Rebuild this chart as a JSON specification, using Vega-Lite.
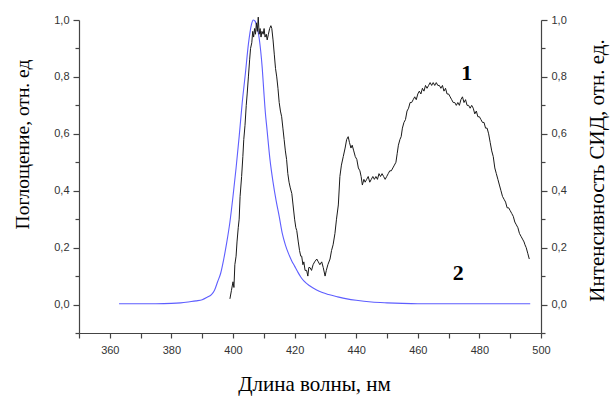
{
  "$schema": "https://vega.github.io/schema/vega-lite/v6.json",
  "width": 462,
  "height": 313,
  "autosize": {"type": "none"},
  "padding": {"left": 79, "top": 20, "right": 69, "bottom": 63},
  "background": "white",
  "config": {
    "view": {"stroke": null},
    "axis": {
      "grid": false,
      "domainColor": "#444",
      "domainWidth": 1.2,
      "tickColor": "#444",
      "tickWidth": 1.2,
      "labelColor": "#333",
      "labelFont": "Liberation Sans",
      "labelFontSize": 11,
      "titleFont": "Liberation Serif",
      "titleFontSize": 19,
      "titleFontWeight": "normal",
      "titleColor": "#000"
    }
  },
  "datasets": {
    "blue": [
      {"wl": 363, "v": 0.003}, {"wl": 370, "v": 0.003}, {"wl": 375, "v": 0.003}, {"wl": 380, "v": 0.004},
      {"wl": 383, "v": 0.006}, {"wl": 386, "v": 0.01}, {"wl": 388, "v": 0.013}, {"wl": 390, "v": 0.017},
      {"wl": 391.5, "v": 0.025}, {"wl": 393, "v": 0.035}, {"wl": 394, "v": 0.05}, {"wl": 395, "v": 0.08},
      {"wl": 396, "v": 0.11}, {"wl": 397, "v": 0.16}, {"wl": 398, "v": 0.22}, {"wl": 399, "v": 0.29},
      {"wl": 400, "v": 0.38}, {"wl": 401, "v": 0.48}, {"wl": 402, "v": 0.59}, {"wl": 403, "v": 0.71},
      {"wl": 404, "v": 0.81}, {"wl": 405, "v": 0.915}, {"wl": 405.5, "v": 0.955}, {"wl": 406, "v": 0.985},
      {"wl": 406.6, "v": 1.0}, {"wl": 407.2, "v": 0.995}, {"wl": 407.8, "v": 0.975}, {"wl": 408.3, "v": 0.95},
      {"wl": 409, "v": 0.89}, {"wl": 409.5, "v": 0.83}, {"wl": 410, "v": 0.75}, {"wl": 410.5, "v": 0.675},
      {"wl": 411, "v": 0.62}, {"wl": 412, "v": 0.51}, {"wl": 413, "v": 0.43}, {"wl": 414, "v": 0.365},
      {"wl": 415, "v": 0.31}, {"wl": 416, "v": 0.25}, {"wl": 417, "v": 0.21}, {"wl": 418, "v": 0.18},
      {"wl": 419, "v": 0.155}, {"wl": 420, "v": 0.135}, {"wl": 421, "v": 0.115}, {"wl": 422, "v": 0.097},
      {"wl": 423, "v": 0.083}, {"wl": 425, "v": 0.065}, {"wl": 427, "v": 0.052}, {"wl": 429, "v": 0.042},
      {"wl": 431, "v": 0.035}, {"wl": 434, "v": 0.027}, {"wl": 437, "v": 0.02}, {"wl": 440, "v": 0.015},
      {"wl": 445, "v": 0.009}, {"wl": 450, "v": 0.006}, {"wl": 455, "v": 0.004}, {"wl": 460, "v": 0.003},
      {"wl": 480, "v": 0.003}, {"wl": 496.5, "v": 0.003}
    ],
    "black": [
      {"wl": 399.0, "v": 0.02}, {"wl": 399.5, "v": 0.05}, {"wl": 400.0, "v": 0.08}, {"wl": 400.3, "v": 0.06},
      {"wl": 400.6, "v": 0.14}, {"wl": 401.0, "v": 0.17}, {"wl": 401.3, "v": 0.22}, {"wl": 401.7, "v": 0.27},
      {"wl": 402.0, "v": 0.30}, {"wl": 402.3, "v": 0.38}, {"wl": 402.8, "v": 0.45}, {"wl": 403.2, "v": 0.52},
      {"wl": 403.5, "v": 0.58}, {"wl": 403.9, "v": 0.63}, {"wl": 404.3, "v": 0.70}, {"wl": 404.6, "v": 0.74},
      {"wl": 405.0, "v": 0.80}, {"wl": 405.4, "v": 0.86}, {"wl": 405.7, "v": 0.90}, {"wl": 406.1, "v": 0.92},
      {"wl": 406.4, "v": 0.96}, {"wl": 406.7, "v": 0.94}, {"wl": 407.0, "v": 0.97}, {"wl": 407.3, "v": 0.95},
      {"wl": 407.6, "v": 0.99}, {"wl": 407.9, "v": 0.96}, {"wl": 408.2, "v": 1.01}, {"wl": 408.5, "v": 0.95},
      {"wl": 408.8, "v": 0.97}, {"wl": 409.1, "v": 0.94}, {"wl": 409.4, "v": 0.96}, {"wl": 409.8, "v": 0.95},
      {"wl": 410.1, "v": 0.97}, {"wl": 410.4, "v": 0.94}, {"wl": 410.8, "v": 0.95}, {"wl": 411.1, "v": 0.93},
      {"wl": 411.5, "v": 0.95}, {"wl": 411.9, "v": 0.97}, {"wl": 412.3, "v": 0.98}, {"wl": 412.6, "v": 0.97},
      {"wl": 413.0, "v": 0.93}, {"wl": 413.4, "v": 0.88}, {"wl": 413.8, "v": 0.83}, {"wl": 414.2, "v": 0.80},
      {"wl": 414.6, "v": 0.76}, {"wl": 415.0, "v": 0.71}, {"wl": 415.4, "v": 0.68}, {"wl": 415.8, "v": 0.66},
      {"wl": 416.2, "v": 0.62}, {"wl": 416.6, "v": 0.58}, {"wl": 417.0, "v": 0.54}, {"wl": 417.4, "v": 0.51},
      {"wl": 417.8, "v": 0.46}, {"wl": 418.2, "v": 0.43}, {"wl": 418.6, "v": 0.41}, {"wl": 419.1, "v": 0.39},
      {"wl": 419.5, "v": 0.35}, {"wl": 420.0, "v": 0.30}, {"wl": 420.4, "v": 0.27}, {"wl": 420.7, "v": 0.26},
      {"wl": 421.2, "v": 0.22}, {"wl": 421.6, "v": 0.19}, {"wl": 422.0, "v": 0.17}, {"wl": 422.3, "v": 0.17},
      {"wl": 422.7, "v": 0.14}, {"wl": 423.0, "v": 0.15}, {"wl": 423.4, "v": 0.12}, {"wl": 423.9, "v": 0.12},
      {"wl": 424.3, "v": 0.10}, {"wl": 424.6, "v": 0.13}, {"wl": 425.0, "v": 0.13}, {"wl": 425.5, "v": 0.12},
      {"wl": 426.0, "v": 0.14}, {"wl": 426.5, "v": 0.15}, {"wl": 427.2, "v": 0.16}, {"wl": 427.7, "v": 0.15},
      {"wl": 428.2, "v": 0.14}, {"wl": 428.8, "v": 0.15}, {"wl": 429.3, "v": 0.13}, {"wl": 429.9, "v": 0.10},
      {"wl": 430.3, "v": 0.12}, {"wl": 430.8, "v": 0.14}, {"wl": 431.5, "v": 0.16}, {"wl": 432.0, "v": 0.19},
      {"wl": 432.5, "v": 0.21}, {"wl": 433.1, "v": 0.25}, {"wl": 433.6, "v": 0.30}, {"wl": 434.2, "v": 0.35},
      {"wl": 434.7, "v": 0.45}, {"wl": 435.2, "v": 0.49}, {"wl": 435.8, "v": 0.52}, {"wl": 436.4, "v": 0.55},
      {"wl": 436.9, "v": 0.58}, {"wl": 437.4, "v": 0.59}, {"wl": 437.8, "v": 0.57}, {"wl": 438.3, "v": 0.55},
      {"wl": 438.7, "v": 0.56}, {"wl": 439.2, "v": 0.54}, {"wl": 439.7, "v": 0.52}, {"wl": 440.2, "v": 0.51},
      {"wl": 440.7, "v": 0.48}, {"wl": 441.2, "v": 0.47}, {"wl": 441.6, "v": 0.45}, {"wl": 442.0, "v": 0.42},
      {"wl": 442.5, "v": 0.44}, {"wl": 442.9, "v": 0.43}, {"wl": 443.4, "v": 0.44}, {"wl": 443.9, "v": 0.45},
      {"wl": 444.4, "v": 0.43}, {"wl": 444.9, "v": 0.44}, {"wl": 445.4, "v": 0.45}, {"wl": 445.9, "v": 0.44},
      {"wl": 446.4, "v": 0.45}, {"wl": 446.9, "v": 0.44}, {"wl": 447.4, "v": 0.46}, {"wl": 447.9, "v": 0.45},
      {"wl": 448.4, "v": 0.46}, {"wl": 448.9, "v": 0.45}, {"wl": 449.4, "v": 0.44}, {"wl": 449.9, "v": 0.45},
      {"wl": 450.4, "v": 0.46}, {"wl": 450.9, "v": 0.47}, {"wl": 451.4, "v": 0.47}, {"wl": 451.9, "v": 0.48},
      {"wl": 452.4, "v": 0.49}, {"wl": 452.9, "v": 0.50}, {"wl": 453.3, "v": 0.53}, {"wl": 453.7, "v": 0.56},
      {"wl": 454.2, "v": 0.58}, {"wl": 454.6, "v": 0.59}, {"wl": 455.0, "v": 0.62}, {"wl": 455.5, "v": 0.64},
      {"wl": 456.0, "v": 0.65}, {"wl": 456.5, "v": 0.68}, {"wl": 457.0, "v": 0.69}, {"wl": 457.5, "v": 0.71},
      {"wl": 458.0, "v": 0.71}, {"wl": 458.5, "v": 0.72}, {"wl": 459.0, "v": 0.73}, {"wl": 459.5, "v": 0.72},
      {"wl": 460.0, "v": 0.74}, {"wl": 460.5, "v": 0.75}, {"wl": 461.0, "v": 0.74}, {"wl": 461.5, "v": 0.76},
      {"wl": 462.0, "v": 0.75}, {"wl": 462.5, "v": 0.77}, {"wl": 463.0, "v": 0.76}, {"wl": 463.5, "v": 0.77},
      {"wl": 464.0, "v": 0.78}, {"wl": 464.5, "v": 0.77}, {"wl": 465.0, "v": 0.78}, {"wl": 465.5, "v": 0.77},
      {"wl": 466.0, "v": 0.78}, {"wl": 466.5, "v": 0.77}, {"wl": 467.0, "v": 0.77}, {"wl": 467.5, "v": 0.76},
      {"wl": 468.0, "v": 0.77}, {"wl": 468.5, "v": 0.75}, {"wl": 469.0, "v": 0.76}, {"wl": 469.5, "v": 0.74},
      {"wl": 470.0, "v": 0.74}, {"wl": 470.5, "v": 0.73}, {"wl": 471.0, "v": 0.72}, {"wl": 471.5, "v": 0.71},
      {"wl": 472.0, "v": 0.71}, {"wl": 472.5, "v": 0.70}, {"wl": 473.0, "v": 0.71}, {"wl": 473.5, "v": 0.70},
      {"wl": 474.0, "v": 0.72}, {"wl": 474.5, "v": 0.73}, {"wl": 475.0, "v": 0.71}, {"wl": 475.5, "v": 0.72},
      {"wl": 476.0, "v": 0.70}, {"wl": 476.5, "v": 0.70}, {"wl": 477.0, "v": 0.69}, {"wl": 477.5, "v": 0.70},
      {"wl": 478.0, "v": 0.69}, {"wl": 478.5, "v": 0.67}, {"wl": 479.0, "v": 0.68}, {"wl": 479.5, "v": 0.66},
      {"wl": 480.0, "v": 0.66}, {"wl": 480.5, "v": 0.65}, {"wl": 481.0, "v": 0.64}, {"wl": 481.5, "v": 0.64},
      {"wl": 482.0, "v": 0.62}, {"wl": 482.5, "v": 0.62}, {"wl": 483.0, "v": 0.60}, {"wl": 483.5, "v": 0.57},
      {"wl": 484.0, "v": 0.54}, {"wl": 484.5, "v": 0.52}, {"wl": 485.0, "v": 0.48}, {"wl": 485.5, "v": 0.46},
      {"wl": 486.0, "v": 0.44}, {"wl": 486.5, "v": 0.42}, {"wl": 487.0, "v": 0.40}, {"wl": 487.5, "v": 0.38},
      {"wl": 488.0, "v": 0.37}, {"wl": 488.5, "v": 0.36}, {"wl": 489.0, "v": 0.34}, {"wl": 489.5, "v": 0.34},
      {"wl": 490.0, "v": 0.33}, {"wl": 490.5, "v": 0.32}, {"wl": 491.0, "v": 0.31}, {"wl": 491.5, "v": 0.29},
      {"wl": 492.0, "v": 0.28}, {"wl": 492.5, "v": 0.27}, {"wl": 493.0, "v": 0.25}, {"wl": 493.5, "v": 0.24},
      {"wl": 494.0, "v": 0.23}, {"wl": 494.5, "v": 0.22}, {"wl": 494.8, "v": 0.21}, {"wl": 495.2, "v": 0.20},
      {"wl": 495.7, "v": 0.18}, {"wl": 496.2, "v": 0.16}
    ],
    "labels": [
      {"wl": 475.9, "v": 0.813, "label": "1"},
      {"wl": 473.1, "v": 0.11, "label": "2"}
    ]
  },
  "encoding": {
    "x": {
      "field": "wl", "type": "quantitative",
      "scale": {"domain": [350, 500], "nice": false, "zero": false},
      "axis": {
        "values": [350, 360, 370, 380, 390, 400, 410, 420, 430, 440, 450, 460, 470, 480, 490, 500],
        "labelExpr": "datum.value % 20 == 0 ? '' + datum.value : ''",
        "tickSize": 5,
        "labelPadding": 6,
        "labelFlush": false,
        "labelOverlap": false,
        "title": "Длина волны, нм",
        "titleFontSize": 21,
        "titleX": 235, "titleY": 51, "titleBaseline": "middle", "titleAlign": "center"
      }
    }
  },
  "layer": [
    {
      "data": {"name": "blue"},
      "mark": {"type": "line", "color": "#5e5eff", "strokeWidth": 1.1, "interpolate": "monotone"},
      "encoding": {
        "y": {
          "field": "v", "type": "quantitative",
          "scale": {"domain": [-0.1, 1.0], "nice": false, "zero": false},
          "axis": {
            "orient": "left",
            "values": [-0.1, 0, 0.1, 0.2, 0.3, 0.4, 0.5, 0.6, 0.7, 0.8, 0.9, 1.0],
            "labelExpr": "round(datum.value*10) % 2 == 0 ? replace(format(datum.value, '.1f'), '.', ',') : ''",
            "tickSize": {"condition": {"test": "round(datum.value*10) % 2 == 0", "value": 6}, "value": 4},
            "labelPadding": 4,
            "labelFlush": false,
            "labelOverlap": false,
            "title": "Поглощение, отн. ед",
            "titleFontSize": 19.5,
            "titleAngle": 270, "titleX": -57, "titleY": 124, "titleBaseline": "middle", "titleAlign": "center"
          }
        }
      }
    },
    {
      "data": {"name": "black"},
      "mark": {"type": "line", "color": "#1a1a1a", "strokeWidth": 1},
      "encoding": {
        "y": {
          "field": "v", "type": "quantitative",
          "scale": {"domain": [-0.1, 1.0], "nice": false, "zero": false},
          "axis": {
            "orient": "right",
            "values": [-0.1, 0, 0.1, 0.2, 0.3, 0.4, 0.5, 0.6, 0.7, 0.8, 0.9, 1.0],
            "labelExpr": "round(datum.value*10) % 2 == 0 ? replace(format(datum.value, '.1f'), '.', ',') : ''",
            "tickSize": {"condition": {"test": "round(datum.value*10) % 2 == 0", "value": 6}, "value": 4},
            "labelPadding": 4,
            "labelFlush": false,
            "labelOverlap": false,
            "title": "Интенсивность СИД, отн. ед.",
            "titleFontSize": 21,
            "titleAngle": 270, "titleX": 56, "titleY": 150, "titleBaseline": "middle", "titleAlign": "center"
          }
        }
      }
    },
    {
      "data": {"name": "labels"},
      "mark": {"type": "text", "font": "Liberation Serif", "fontWeight": "bold", "fontSize": 22, "color": "#000", "baseline": "middle", "align": "center"},
      "encoding": {
        "y": {"field": "v", "type": "quantitative", "scale": {"domain": [-0.1, 1.0], "nice": false, "zero": false}, "axis": null},
        "text": {"field": "label"}
      }
    }
  ],
  "resolve": {"scale": {"y": "independent"}}
}
